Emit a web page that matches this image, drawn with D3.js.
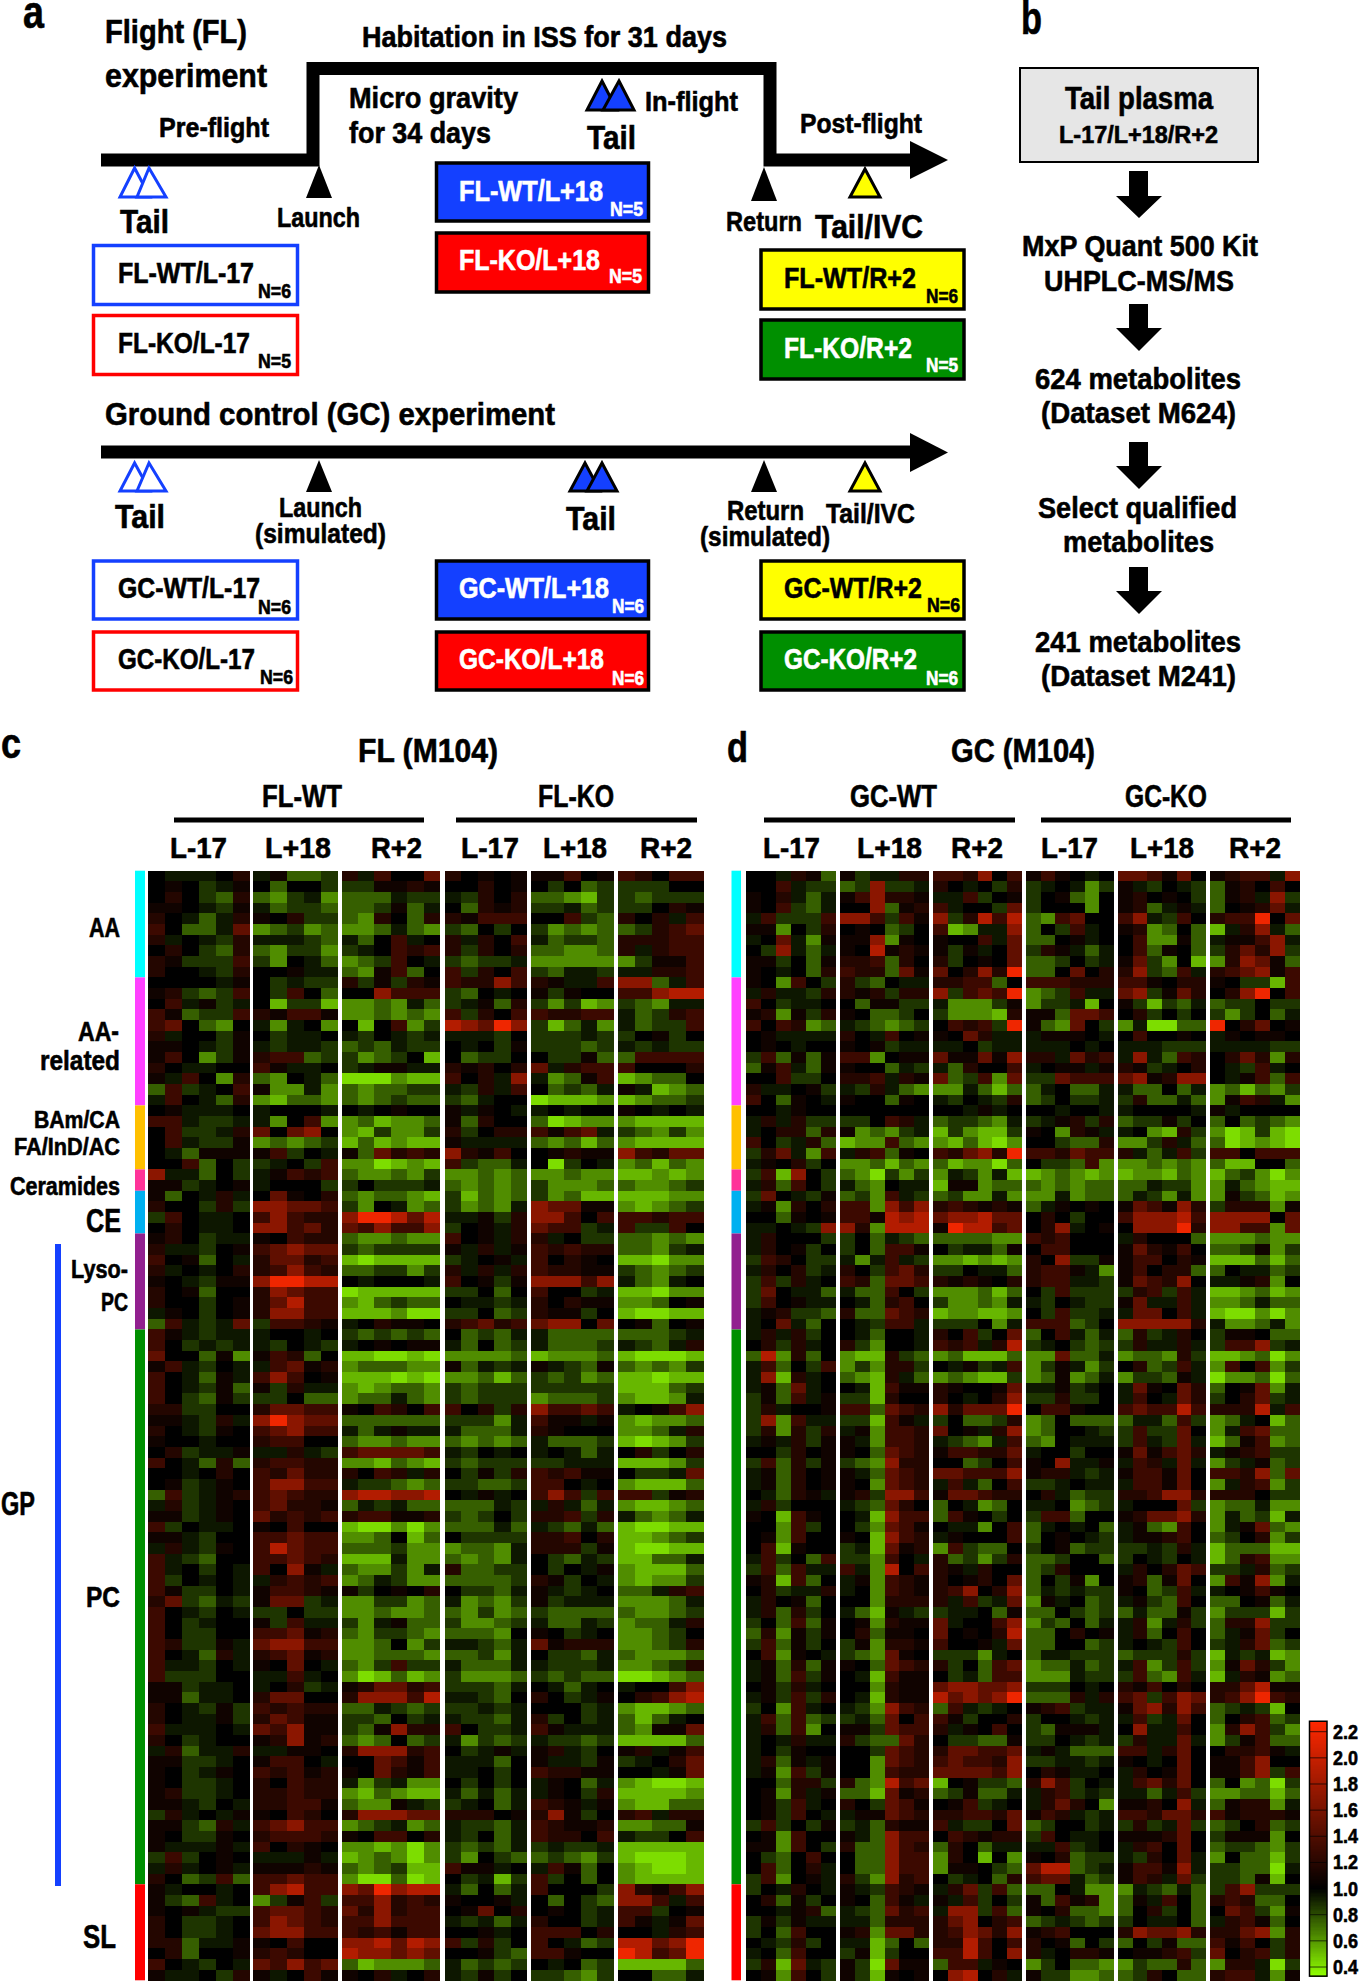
<!DOCTYPE html>
<html>
<head>
<meta charset="utf-8">
<script src="https://cdn.jsdelivr.net/npm/d3@7"></script>
<style>
html, body { margin: 0; padding: 0; background: #fff; }
svg { display: block; }
text { font-family: "Liberation Sans", Arial, sans-serif; font-weight: bold; stroke-width: 0.6; }
</style>
</head>
<body>
<script>
// heatmap rows: one letter per sample, blocks split by a space
// a..f = below 1 (green), . = 1, 1..7 = above 1 (red)
const levelValues = { a: 0.42, b: 0.52, c: 0.63, d: 0.75, e: 0.86, f: 0.94, ".": 1.0,
    1: 1.08, 2: 1.18, 3: 1.3, 4: 1.48, 5: 1.7, 6: 1.9, 7: 2.2 };

const flSamples = [6, 5, 6, 5, 5, 5];
const gcSamples = [6, 6, 6, 6, 6, 6];
const timeLabels = ["L-17", "L+18", "R+2", "L-17", "L+18", "R+2"];
const classNames = ["AA", "AA-related", "BAm/CA FA/InD/AC", "Ceramides", "CE", "Lyso-PC", "PC", "SL"];
const classSizes = [10, 12, 6, 2, 4, 9, 52, 9];
const classColors = ["#00FFFF", "#FF40FF", "#FFC000", "#FF3399", "#00B0F0", "#92208F", "#008F00", "#FF0000"];
const legendTicks = [2.2, 2.0, 1.8, 1.6, 1.4, 1.2, 1.0, 0.8, 0.6, 0.4];

const flRows = [
".fff.2 f1dde 2f3..4 2.1.1 113.1 32.33",
".1.ef1 .d..e ee1121 ..2.1 .e.de eee..",
".2.ed2 dcefc dddfee fe2.2 ddcbe edeee",
"11.fe1 fdeed dde1df .d212 eefde ee.21",
"2.fdf2 1.2ee dc2.d2 21333 ..3ed 2.2f3",
"3.ddf4 cdecd ccdfdc ed.e. ecdcd de234",
"2f.fe2 fffed fd.3f. 2f2.3 fdeed 22233",
".2.ed2 dceec ef.323 2e2.2 ddccd 2f233",
"21eee3 ec.fd cde3.f edeef ccccc ce113",
"2..fe2 ..1ff dc13d. 3e2.3 edffe ff223",
"....f1 .efee 2e1e21 32253 21ff3 55df3",
"12ede3 .e3.d ..5333 ed.f. 1e1.. 33566",
".3f1ef .beeb ccdcfd ef1d2 ecebc edcff",
"31dee3 21331 ccdcdc 3e2.3 32233 fde23",
"34.dc. fcf.c .b.3ce 65475 ebdfc fdee3",
"2f..e1 .eff. fe.fef fffe. eeefe e.1e.",
"11.fe1 feffe dedfee .f.e1 eeede fefee",
"13.ce1 233de ecde.b .dee. .ee1d d3333",
"2.ff.. 31ff. ef11ff 212.2 4f233 3...2",
"1f3.c2 dc.fd aaacbb 3.2f5 fcd13 bcdd.",
"d3ef.3 1ccfc dcddee fe2f3 .dedf 1fbcd",
"f3.fd2 cbddc dcdedd edf.. abbbc bcdde",
".1fff. f...f .f.1.. 1f1.f f.f.. 1.f.f",
"33feef fc.3c cdbccd 1d2.. dabcc cbbbb",
".3eef2 4.45. cbecce 2e.22 3134f edcec",
".3fee1 cdcde bdbcbb 1ffff dcdbd cbbbb",
".fd111 13e.f 1d4232 5213. .1211 53244",
"..3d.e ef.e3 ccabcb 3eddf .ae.f cdbdc",
"5ffd.e f1323 dccdce ccdcd ccdcc bbcbc",
"11ef.1 f...e e.eeef dcdcd ecccd dccde",
"1d.f2f .41.2 dcddcb ebdcd ecdbb bbbcc",
"2..e2e 55443 ec.fcd ecdcf 54411 cbcde",
"e3.ff. 35322 577646 ff1e2 553.3 33233",
".2.ff. 55342 435335 e.1f2 433ef 3ee3.",
"12.eff 1.322 dccdcc 3.1f2 2f.ee ddcdc",
"2ffe.1 34544 edeeee 1f2f1 32322 ddcef",
"3.1d.f 24423 babbbb ef.1f 3.21. bbacc",
"2f.f.2 23532 ddeece 2f2f2 32211 edcde",
"1.fe11 57766 .f...f 3.1e1 55535 fdcf.",
"2.1d.. 25433 abbbbb ee.d. 3..ef bbacc",
"2..e.1 24633 cbdedd .ffef 2.211 ccd.1",
"f1.e.1 25533 bbbcaa ee.de 211e. baabb",
"d3fef4 e3321 f.211. 23423 455.4 .1d.1",
"31feff f..f. ededed .dedf fdddd dddef",
"3.efef fe.fe f.1.11 fd.de fddde fedf2",
"4..d1c 132d. bbaaba ccccd bcccd baaab",
"13fe.f f3412 cdddcc 1dfef 1fed1 dcdce",
"3.fd1f 353.1 bbbaba ccdbd edecd bbabb",
"3.fe1d 1e2ff cbcddc edeee eeeee bbbde",
"3.ed1e ee.dd cddfdc edeee cddde cbbcf",
"22ee.. 24433 1.32.3 3.2e2 53343 f.135",
"11fe2f 57544 dddddd eeecf 311f1 cbccd",
"2.fe1. 34533 fdf1ff fdddf 21... ccdf2",
"1..f.. 233.. dccdcc dcdcd fddde babce",
".2eff1 ff2fe 344443 fe.f. f.fdf .2e.2",
"3.fd2d 23322 ccbdcb edeee eefff bbbce",
"..f.2. 32422 2.32f2 .e1e2 32311 .eef4",
".1ef1. 35533 feedcd eedde 33.f. cbbbd",
"d3ef12 34322 566556 .f1f. 353e3 33e12",
"f2ef1. 34221 dfefdd dddfe f2fdf cbbcd",
"11ef1. 42323 233112 ede.e 223e2 fdcdf",
"3e.ff. 1.3.. baacac dddfd fedfd baabb",
"11fe.. 33433 ccd.bd .eeee 223.2 bbcde",
"f2fe1. 36433 dddecc cddcf 222e1 baabb",
"3fed.. 33432 bbbfcc dcdcf .edfe bbddf",
"3f.e.f 3.51f dccecf 2ddee .e.f1 cbbbd",
"3e.f.f f2323 cdfecc dddde 21e.f cbcce",
"31ee.f 13321 1e.1.2 .eedf 1fef. ddf23",
"24edfe 144ef cceecd fcdce 1efff cccdf",
"3.fe.f ee.ee ccdccd dcecd edddd dccde",
"3.ef.. 1e3ff ecf1dd eccde fddfe cddf2",
"3.ee.. 33412 dceedc dddc. 1.ef. ccde.",
"32ee1f 45533 ccd.ce ffedf 41222 ccde2",
"3.fd2f 23412 ccdddc ddecf .eedf dcccd",
"3ffe.f 1.4.f dce3ee fdddf feeef ccde2",
"3eee.. ff3f. cabdbc ecccd ededd aabcd",
"11eff. f.2ef 124423 eeedf .fdf. f..35",
"11dff. 244.. 255536 ffed. 2.ef1 .2356",
"2.fe1e 32322 ddfede eefef ...ef cbbcd",
"2.ff1e 24311 eed.ef feedf 2e.ef dbdf.",
"3fff.f 43511 ed1522 3.eef 31fff dc114",
"2.ef.. 12512 dcd.de fcede feede bbbbd",
"f2dff2 ff11. 255523 .ef1f 12fe. 12f13",
"11eef. 133.f ..4313 fffd. 1ffe1 ef.24",
"1.ef1. 32312 1.4213 ff.e. 32211 ..f14",
"1.eef. 2.322 fcefcc .e.e. f1.df cbaab",
"12eef. 22322 cbdcbb fdfdf f1.e2 bbbbc",
"11fe.f 22331 dcc1fe ef.df 321f1 cbbdd",
"e2f.f1 1.32. 255544 222.1 251e. 23f22",
"11ed2f 34533 cdefcd feedf 32112 ccdd1",
"1.ee1. 23332 1.33.2 fe.df 322.3 fee.3",
"1fff1f 3.21. ccbcac ededf efeef bbbbb",
"e3e.1. fff1f bcdcac ec.ed dedce baaab",
"f2f.1f 11121 dcdebb 311f. f31d. cbaab",
"2.de3d 33433 caadab .efbe 3e.d. cbbbb",
"1f..f. 35633 547566 fd.df 3...e 52135",
"1ed3f. ce13e 335232 1..1f .d.ed 553f3",
"1.1fee 34432 425233 .14.2 .1.ef 33e.1",
"2.eef. 35432 335333 fefdf 2..ef 31f14",
"2.eef. 45533 323133 ..1f. 333.2 ..f23",
"22dff1 1.3.. 556465 3e2e. 3.fde 66457",
".2d..1 232.. 655454 ..1ed 331.. 76347",
"3.fe.f 43534 dbcccd fdede .f.de bbbbd",
"1ff.e2 1f.31 1.2f.2 fe1e. eedce ..ddf"
];

const gcRows = [
"..f21d 1eff22 3325.3 131.f. 44314. 1233f5",
"..3fee de5eef 2.f.e2 ef.fce 1fe.fe d12.3.",
"1.2fdf 135221 ff3e.1 e.1dc. 12.1.e d12f5e",
"1.3edf ..5d12 3f..e4 e...c. 12df1f d.124f",
"f3eee3 553e31 5e2636 dc34.. 35fe3. 2337.4",
"11c.e2 .1.de. 3bcff5 d.e3f. 12cd.d bf25fd",
"f.4fc1 115c1. 1..3f4 dd.1f. .3cc1d f1135f",
".e5fdf 1.6121 1e1f.4 e21fdf .3d1.d e2425e",
"11e.d1 223d2. 2e.1.4 dde.ef 14ec.b c2541d",
"1.f.d2 322d41 4.2527 dd.4.2 25ed3f 234513",
"1.c3.e 2ed.ff 2233d. 333222 331.22 1.eeb3",
"f2ffe2 212e22 5e3437 cde3ff 45e142 .257.3",
"3.eff. .d11ee fccce1 ceefb. 1ebedf dee.ee",
"12c1e2 1.dde. ecccb2 11d443 .2e.e. ece.df",
"3.32cd fedcde .323e7 1dc4.e cfaadd 7.24.1",
".1ffff 2.f3.1 1.42ff f111.f .3..1. f1.11.",
".1.f.. 1.1eff ff.eff fff.f. fffeee ffffee",
"e3d1d1 33c.11 411415 22f423 f5fd32 .242c2",
"d13fd1 1..dfe fd2..3 f.11f1 21ef.2 .fe3f.",
"..3ee. 223f21 4de3c4 ee4333 451255 .f13d3",
"2ff.1e fe2fdc ccfdbd df.ddf fdd.df cdbdce",
"3.d1.f 1..d1. fe.fe2 de.eef e2ddfd c132fc",
"..f1.. ...... ..f1f. ..f..f f....f 1f....",
"f2f2ee ee.32f deedcf ef12e2 dee1e. d.dedc",
"f.22d2 1cdcef becbbe 1.c21f f.cb2e cabeba",
"3.ef2d bcc3dc cbdbac ..edd2 cce2fd dabcba",
"e24fc3 f23d1. 324527 332433 2fdf3e 33.333",
"f1.2e. ccdbdc dbccad .eed3c ccdcdc dbb..d",
"e3b5.e dcaece cfecfb bcdcbc bccbdc bdecac",
"f2d3.e fdc.ff b11cdd dcdcdd ddfeec cfdcbb",
"e4.fe1 dec3fe deccfc ccfcdd dfecfc c1edbc",
"f1c2.2 33c535 232121 df1.1. 143152 e222c1",
"..d1.1 331656 455644 .2.e.. 355563 5555.4",
"ff.fe5 52c666 176634 .25f.1 .55572 5533c4",
"f2...e e.dfed ddddcc 323... f2...d cccdcc",
"f2.1e. e.d331 .effd1 .33... 14213. dde1ce",
"e32.ee fcf3fe ccbcbc 2.5ee1 133.21 bbbdbd",
"f2.2ef 2.e342 ee.ffd 2331fc 13.22d d.ffde",
"e3e2f. 32d443 2121.2 233ffe 14325. ff12c.",
"e4.ffd fdd3.e cccdbd .e3eee e23e3f bbcdbc",
"e3.1ff .fd23. eccdcf fe.fee 14ff3f ccdfdd",
"f12eed 2dd432 bccbbc .e3eef f44.3f baacac",
"f.4fd. .fe33f eee.cf 333de. 555552 fccdfc",
"f2f2e. .fd..f 2.3e.4 d.3fdf d2ef2. e11.dd",
".2e2f. 2ec..f 323f26 ef.ede e2ff2f e335ef",
"d6c2d. cbb2ed cdbbbd cc4ddf cddc2e bbcdac",
"f3d.e3 cec22e .f1ef3 ce1fce .2de3f c3.3ce",
"f5b2f. dcb2fd cdcbbe cd1cdf ceed1f accdad",
"f1d4f. .fb311 21..14 ff1ef. f41.42 d.14cf",
"e1d3f1 eeb2.. 2.f.25 ee2ee. f3.f42 e.24ef",
"e2f..1 33d432 524447 .331.. 343363 2226f3",
"e5c3ff eeb31f e.dde2 cd.ddd dffd3e cdf.bd",
"e2c2e2 f1c332 4.1f25 cd..fe e3ee4. cf34dd",
"f1f2e1 1fc332 fedcf3 dc.fff e3fe4f bd13cd",
"..e2.1 1.d432 133224 f..e.. 141342 f123ee",
"e3d2e1 edc522 ..de.3 1.5ff1 f32f4f cef1de",
"f1d2.1 1fd432 443335 122fef 13314. 3325d4",
"f1d2.1 1.c432 f3fd.3 eef.ff f3314. cf23ce",
".fd21f 12e553 144322 .2fdee 223552 222.ee",
"f2e... fed42. d.fcd. ff.cde f...4e cddfcc",
"1.b31. .fb533 d31.e. e33d.. 124452 cfdebf",
"..c3e. .ec431 .ffc.3 df.f.d f1dc3. cf14dc",
".1c3.. 1.b532 f1...3 d.1.fe f1123. de.2ce",
".3b1.. efb412 c3edd. e.1dee eefe2f bdddbb",
"f3e.d3 eec3.f 2dece2 dde..d e.fe.f bd23cc",
"e3d3ff 3fc6.3 21f2.. de2... f2.243 eef2de",
"12b3d. f1c321 2.12.4 d.e1c. 12d14. c315cf",
".2eff2 f.c321 235.25 dfefee 1.de3f f.131.",
"f2.1d. ..c222 2f3ef4 c1f.de f1ed3. dd.1df",
"f2d2e. fdb1fe eff.d1 dd.ede dfdd1e ceeebe",
"e.d3d1 .1c211 4f..35 ced.df f2cf2e d225ee",
"d2c1e1 .2d11. 4.1.26 dd.2.1 f2d.3. df14e.",
"e3d1e. e1c221 3..1f4 dd..de f.fe3. ef24de",
".3c1.f edc41. eeecf. dffeee deee2e bfefbc",
"f1d2d1 1.d432 2e.d34 cddfde f3ce3e c142ec",
"f1d3e1 .fb311 .efd33 cccfee e3dc3f bf21cd",
".1e2f. ..c211 455445 eee.f. 213.2. 224611",
"f1e3e2 .fb211 645457 ddd2f2 34e354 235732",
"e.c3f. fec532 d3fef. 123eff 145253 defeb.",
"f3d3de efd4.3 31e..2 e..fef f3ef4. d.23de",
"f2d3c. 11e433 2f1.3. ed111f .5ff3. c253ec",
"f.f2ff 2edd42 .eedd1 ee.fef e2ff4f ce13dd",
"f.e1.. ..e432 244334 f1fddd 33f24. .2231f",
"f2d1f1 ..c432 343325 eeffef 1.f.4. 1135..",
"f1c3e1 ..c322 444435 .21ff. f2.14. 1135e3",
"..d22e 2dc634 b.1eed 253e.f f3424. d.cdae",
".1c2f1 ddb412 de1ddf f23efe ffdf3e ccddbd",
".1e3f. 2.e431 .13ef. f242.c 112.5f d122cf",
".1e3.f f11432 223324 132fef 332442 312221",
"e3e.e1 efd211 3fee.4 de..ef e2ef4e de.2de",
".1c3.. 1fd533 .32122 e3.ff. 11124. e111c.",
"11c3.e 2dd532 d2.dff ff3ef. f23.4. deedce",
".ed.3. .dd533 c2.b.c 1.2dee fe2.4f c.ddbe",
".3d.2f .dd533 c11.ed 466def 13315f eeddaf",
"e3c.1f 2ec523 .ef.d2 344fde 132f4e eed1b.",
"e.f2.f 1fe321 f24e3d dd.fcc cfedfd e35eee",
".2d1e. 1.d31f 1f3e.e 1d312c d1f3.d 232dd.",
"..f12d fed423 f55e3d 1.2ddc d.2e.d .43ec1",
"e1e1ff ffd222 245.23 defede e.ff.d f231d.",
"e.d3.. 12c442 235425 123... 254452 2245c2",
".fe2e. ffbd.d 2263.3 2.1d.e d.e1dd 313.e2",
"f.d3.. e1be.. 3363.5 2f.221 .1123e 4.23e2",
"e2b4fe 1ea411 d33f1. ce.ddc cedd2d c22fae",
".1c3.e 1eb1.1 .56.2f 1eeccd de2.dd 233fc1"
];

const WIDTH = 1359;
const HEIGHT = 1982;
const BLUE = "#1440FF";
const GREEN = "#008F00";
const RED = "#FF0000";
const YELLOW = "#FFFF00";

const svg = d3.select("body").append("svg")
    .attr("width", WIDTH)
    .attr("height", HEIGHT);

const color = d3.scaleLinear()
    .domain([0.33, 1, 2.28])
    .range(["#90FF00", "#000000", "#FF2800"])
    .clamp(true);

// x1, x2, baseline, size, text, fill
function label(x1, x2, y, size, str, fill) {
    svg.append("text")
        .attr("x", x1)
        .attr("y", y)
        .attr("font-size", size)
        .attr("textLength", x2 - x1)
        .attr("lengthAdjust", "spacingAndGlyphs")
        .attr("fill", fill || "#000")
        .attr("stroke", fill || "#000")
        .text(str);
}

function box(x, y, w, h, fill, stroke) {
    svg.append("rect")
        .attr("x", x).attr("y", y)
        .attr("width", w).attr("height", h)
        .attr("fill", fill)
        .attr("stroke", stroke)
        .attr("stroke-width", 3.5);
}

function tri(apex, top, left, right, base, fill, stroke) {
    svg.append("path")
        .attr("d", d3.line()([[apex, top], [right, base], [left, base]]) + "Z")
        .attr("fill", fill)
        .attr("stroke", stroke)
        .attr("stroke-width", 3)
        .attr("stroke-linejoin", "miter");
}

function timeline(points) {
    svg.append("path")
        .attr("d", d3.line()(points))
        .attr("fill", "none")
        .attr("stroke", "#000")
        .attr("stroke-width", 13)
        .attr("stroke-linejoin", "miter");
}

function arrowHead(x1, x2, y1, y2) {
    svg.append("path")
        .attr("d", d3.line()([[x1, y1], [x2, (y1 + y2) / 2], [x1, y2]]) + "Z")
        .attr("fill", "#000");
}

// panel a
label(23, 44, 28, 46, "a");
label(105, 247, 43, 33, "Flight (FL)");
label(105, 267, 87, 33, "experiment");
label(362, 727, 47, 29, "Habitation in ISS for 31 days");
label(349, 518, 108, 30, "Micro gravity");
label(349, 491, 143, 30, "for 34 days");
label(645, 738, 111, 28, "In-flight");
label(587, 636, 149, 33, "Tail");
label(159, 269, 137, 28, "Pre-flight");
label(800, 922, 133, 28, "Post-flight");

timeline([[101, 160], [313, 160], [313, 68.5], [770, 68.5], [770, 160], [912, 160]]);
arrowHead(910, 948, 141, 179);

tri(134.6, 168, 120, 150, 197, "#fff", BLUE);
tri(149, 168, 137, 166, 197, "#fff", BLUE);
tri(602, 81, 587, 617, 110, BLUE, "#000");
tri(619, 81, 603, 634, 110, BLUE, "#000");
tri(319, 165, 306, 332, 198, "#000", "none");
tri(764, 167, 751, 777, 201, "#000", "none");
tri(865, 169, 850, 880, 197, YELLOW, "#000");

label(120, 169, 233, 33, "Tail");
label(277, 360, 227, 28, "Launch");
label(726, 802, 231, 28, "Return");
label(815, 923, 238, 33, "Tail/IVC");

box(93.5, 245.5, 204, 59, "#fff", BLUE);
box(93.5, 315.5, 204, 59, "#fff", RED);
box(436.5, 163, 212, 58, BLUE, "#000");
box(436.5, 233, 212, 59, RED, "#000");
box(761, 250, 203, 59, YELLOW, "#000");
box(761, 320, 203, 59, GREEN, "#000");

label(118, 254, 283, 29, "FL-WT/L-17");
label(258, 291, 298, 20, "N=6");
label(118, 250, 353, 29, "FL-KO/L-17");
label(258, 291, 368, 20, "N=5");
label(459, 603, 201, 29, "FL-WT/L+18", "#fff");
label(610, 643, 216, 20, "N=5", "#fff");
label(459, 600, 270, 29, "FL-KO/L+18", "#fff");
label(609, 642, 283, 20, "N=5", "#fff");
label(784, 916, 288, 29, "FL-WT/R+2");
label(926, 958, 303, 20, "N=6");
label(784, 912, 358, 29, "FL-KO/R+2", "#fff");
label(926, 958, 372, 20, "N=5", "#fff");

label(105, 555, 425, 32, "Ground control (GC) experiment");
timeline([[101, 452], [912, 452]]);
arrowHead(910, 948, 433, 472);

tri(134.6, 463, 120, 150, 491, "#fff", BLUE);
tri(149, 463, 137, 166, 491, "#fff", BLUE);
tri(585, 463, 570, 600, 491, BLUE, "#000");
tri(602, 463, 587, 617, 491, BLUE, "#000");
tri(319, 460, 306, 332, 492, "#000", "none");
tri(764, 460, 751, 777, 492, "#000", "none");
tri(865, 463, 850, 880, 491, YELLOW, "#000");

label(115, 165, 528, 33, "Tail");
label(279, 362, 517, 28, "Launch");
label(255, 386, 543, 28, "(simulated)");
label(566, 616, 530, 33, "Tail");
label(727, 804, 520, 28, "Return");
label(700, 830, 546, 28, "(simulated)");
label(826, 915, 523, 27, "Tail/IVC");

box(93.5, 561, 204, 58, "#fff", BLUE);
box(93.5, 632, 204, 58, "#fff", RED);
box(436.5, 561, 212, 58, BLUE, "#000");
box(436.5, 632, 212, 58, RED, "#000");
box(761, 561, 203, 58, YELLOW, "#000");
box(761, 632, 203, 58, GREEN, "#000");

label(118, 260, 598, 29, "GC-WT/L-17");
label(258, 291, 614, 20, "N=6");
label(118, 255, 669, 29, "GC-KO/L-17");
label(260, 293, 684, 20, "N=6");
label(459, 609, 598, 29, "GC-WT/L+18", "#fff");
label(612, 644, 613, 20, "N=6", "#fff");
label(459, 604, 669, 29, "GC-KO/L+18", "#fff");
label(612, 644, 685, 20, "N=6", "#fff");
label(784, 922, 598, 29, "GC-WT/R+2");
label(927, 960, 612, 20, "N=6");
label(784, 917, 669, 29, "GC-KO/R+2", "#fff");
label(926, 958, 685, 20, "N=6", "#fff");

// panel b
label(1021, 1042, 34, 46, "b");
svg.append("rect")
    .attr("x", 1020).attr("y", 68)
    .attr("width", 238).attr("height", 94)
    .attr("fill", "#E6E6E6")
    .attr("stroke", "#000")
    .attr("stroke-width", 2);
label(1065, 1213, 109, 31, "Tail plasma");
label(1059, 1218, 143, 24, "L-17/L+18/R+2");
label(1022, 1258, 256, 30, "MxP Quant 500 Kit");
label(1044, 1234, 291, 30, "UHPLC-MS/MS");
label(1035, 1241, 389, 30, "624 metabolites");
label(1041, 1236, 423, 30, "(Dataset M624)");
label(1038, 1237, 518, 30, "Select qualified");
label(1063, 1214, 552, 30, "metabolites");
label(1035, 1241, 652, 30, "241 metabolites");
label(1041, 1236, 686, 30, "(Dataset M241)");

[[171, 196, 218], [304, 328, 351], [442, 466, 489], [567, 591, 614]].forEach(a => {
    svg.append("path")
        .attr("d", d3.line()([[1129, a[0]], [1148, a[0]], [1148, a[1]], [1162, a[1]],
            [1139, a[2]], [1116, a[1]], [1129, a[1]]]) + "Z")
        .attr("fill", "#000");
});

// panels c and d
const rowScale = d3.scaleBand()
    .domain(d3.range(104))
    .range([870.7, 1980.3]);

function drawHeatmap(rows, samples, blocks) {
    samples.forEach((n, b) => {
        const colScale = d3.scaleBand()
            .domain(d3.range(n))
            .range(blocks[b]);
        const cells = [];
        rows.forEach((row, r) => {
            const part = row.split(" ")[b];
            d3.range(n).forEach(c => {
                cells.push({ r: r, c: c, v: levelValues[part[c]] });
            });
        });
        svg.append("g")
            .attr("shape-rendering", "crispEdges")
            .selectAll("rect")
            .data(cells)
            .enter()
            .append("rect")
            .attr("x", d => colScale(d.c))
            .attr("y", d => rowScale(d.r))
            .attr("width", colScale.bandwidth() + (0.3))
            .attr("height", rowScale.bandwidth() + 0.5)
            .attr("fill", d => color(d.v));
    });
}

function drawClassStrip(x, w) {
    let start = 0;
    classSizes.forEach((size, i) => {
        svg.append("rect")
            .attr("x", x)
            .attr("y", rowScale(start))
            .attr("width", w)
            .attr("height", rowScale.bandwidth() * size)
            .attr("fill", classColors[i]);
        start += size;
    });
}

function bar(x1, x2) {
    svg.append("rect")
        .attr("x", x1).attr("y", 817.5)
        .attr("width", x2 - x1).attr("height", 5)
        .attr("fill", "#000");
}

drawHeatmap(flRows, flSamples, [[148, 249.5], [253, 338], [341.5, 440], [444.5, 527], [531, 614], [617.5, 703.5]]);
drawHeatmap(gcRows, gcSamples, [[746, 836], [840, 929], [933, 1022], [1026, 1114], [1118, 1206], [1210, 1300]]);
drawClassStrip(135, 10);
drawClassStrip(731.5, 9.5);

label(1, 21, 758, 42, "c");
label(358, 498, 762, 33, "FL (M104)");
label(262, 342, 807, 31, "FL-WT");
label(538, 614, 807, 31, "FL-KO");
bar(174, 424);
bar(456, 697);
[[170, 227], [265, 331], [371, 422], [461, 519], [543, 607], [640, 692]].forEach((p, i) => {
    label(p[0], p[1], 858, 30, timeLabels[i]);
});

label(727, 748, 762, 42, "d");
label(951, 1095, 762, 33, "GC (M104)");
label(850, 937, 807, 31, "GC-WT");
label(1125, 1207, 807, 31, "GC-KO");
bar(764, 1015);
bar(1041, 1291);
[[763, 820], [857, 922], [951, 1003], [1041, 1098], [1130, 1194], [1229, 1281]].forEach((p, i) => {
    label(p[0], p[1], 858, 30, timeLabels[i]);
});

label(89, 120, 937, 28, "AA");
label(78, 119, 1041, 28, "AA-");
label(40, 120, 1070, 28, "related");
label(34, 120, 1128, 24, "BAm/CA");
label(14, 120, 1155, 24, "FA/InD/AC");
label(10, 120, 1195, 25, "Ceramides");
label(86, 121, 1232, 33, "CE");
label(71, 128, 1278, 26, "Lyso-");
label(101, 128, 1311, 26, "PC");
label(1, 35, 1515, 33, "GP");
label(86, 120, 1607, 30, "PC");
label(83, 116, 1948, 33, "SL");

svg.append("rect")
    .attr("x", 55).attr("y", 1244)
    .attr("width", 6).attr("height", 642)
    .attr("fill", BLUE);

// colour key
const legendY = d3.scaleLinear()
    .domain([0.4, 2.2])
    .range([1967, 1731.7]);

svg.append("g")
    .attr("shape-rendering", "crispEdges")
    .selectAll("rect")
    .data(d3.range(0.33, 2.28, 0.01))
    .enter()
    .append("rect")
    .attr("x", 1309.5)
    .attr("y", d => legendY(d + 0.01))
    .attr("width", 17.5)
    .attr("height", legendY(0.33) - legendY(0.34) + 0.5)
    .attr("fill", d => color(d));

svg.append("rect")
    .attr("x", 1309.5)
    .attr("y", legendY(2.28))
    .attr("width", 17.5)
    .attr("height", legendY(0.33) - legendY(2.28))
    .attr("fill", "none")
    .attr("stroke", "#000")
    .attr("stroke-width", 1.5);

legendTicks.forEach(t => {
    svg.append("line")
        .attr("x1", 1309.5).attr("x2", 1327)
        .attr("y1", legendY(t)).attr("y2", legendY(t))
        .attr("stroke", "#000")
        .attr("stroke-opacity", 0.7);
    label(1333, 1358, legendY(t) + 7, 20, t.toFixed(1));
});
</script>
</body>
</html>
